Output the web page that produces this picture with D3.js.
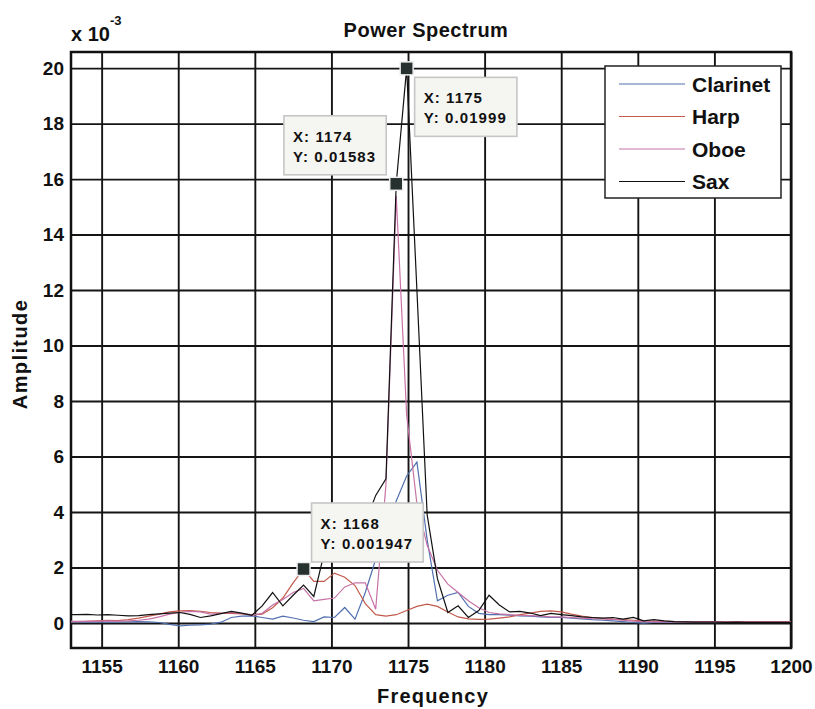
<!DOCTYPE html>
<html>
<head>
<meta charset="utf-8">
<script src="https://cdn.jsdelivr.net/npm/d3@7"></script>
<style>
  body { margin: 0; background: #fff; }
  svg text { font-family: "Liberation Sans", Arial, Helvetica, sans-serif; font-weight: bold; fill: #111; }
</style>
</head>
<body>
<div id="chart"></div>
<script>
// frequency bins (Hz)
const freq = [
  1152.70,1153.37,1154.04,1154.72,1155.39,1156.06,1156.74,1157.41,1158.08,1158.76,
  1159.43,1160.10,1160.77,1161.45,1162.12,1162.79,1163.47,1164.14,1164.81,1165.48,
  1166.16,1166.83,1167.50,1168.18,1168.85,1169.52,1170.20,1170.87,1171.54,1172.21,
  1172.89,1173.56,1174.23,1174.91,1175.58,1176.25,1176.92,1177.60,1178.27,1178.94,
  1179.62,1180.29,1180.96,1181.63,1182.31,1182.98,1183.65,1184.33,1185.00,1185.67,
  1186.34,1187.02,1187.69,1188.36,1189.04,1189.71,1190.38,1191.05,1191.73,1192.40,
  1193.07,1193.75,1194.42,1195.09,1195.77,1196.44,1197.11,1197.78,1198.46,1199.13,
  1199.80,1200.48
];

// amplitudes, x 10^-3
const clarinet = [
  0.03,0.03,0.04,0.03,0.04,0.03,0.04,0.05,0.04,0.02,
  -0.05,-0.10,-0.08,-0.07,-0.04,0.03,0.20,0.25,0.26,0.20,
  0.14,0.25,0.18,0.10,0.05,0.22,0.20,0.56,0.14,1.10,
  2.30,3.40,4.40,5.30,5.80,3.00,0.80,1.00,1.10,0.60,
  0.35,0.30,0.30,0.28,0.26,0.25,0.22,0.20,0.20,0.18,
  0.15,0.12,0.10,0.08,0.05,0.02,0.00,0.02,0.02,0.02,
  0.02,0.02,0.02,0.02,0.02,0.02,0.02,0.02,0.02,0.02,
  0.02,0.02
];
const harp = [
  0.05,0.05,0.06,0.08,0.10,0.09,0.12,0.18,0.25,0.32,
  0.40,0.44,0.45,0.42,0.38,0.36,0.35,0.33,0.30,0.32,
  0.55,0.90,1.45,1.947,1.50,1.50,1.80,1.65,1.35,0.70,
  0.30,0.25,0.30,0.45,0.60,0.68,0.60,0.40,0.22,0.15,
  0.13,0.14,0.18,0.22,0.30,0.36,0.42,0.44,0.40,0.32,
  0.25,0.20,0.17,0.14,0.12,0.10,0.08,0.07,0.06,0.05,
  0.05,0.05,0.05,0.05,0.05,0.05,0.05,0.05,0.05,0.05,
  0.05,0.05
];
const oboe = [
  0.06,0.06,0.07,0.06,0.08,0.07,0.08,0.10,0.14,0.22,
  0.32,0.38,0.42,0.40,0.32,0.35,0.38,0.35,0.28,0.35,
  0.65,0.85,1.10,1.25,0.80,0.85,0.90,1.30,1.45,1.45,
  0.50,5.00,15.40,7.50,4.30,2.80,1.90,1.40,1.10,0.80,
  0.55,0.38,0.33,0.30,0.28,0.27,0.25,0.22,0.22,0.20,
  0.18,0.16,0.15,0.13,0.10,0.07,0.05,0.04,0.04,0.04,
  0.04,0.04,0.04,0.04,0.04,0.04,0.04,0.04,0.04,0.04,
  0.04,0.04
];
const sax = [
  0.30,0.30,0.31,0.29,0.30,0.28,0.26,0.27,0.30,0.33,
  0.36,0.38,0.31,0.20,0.26,0.34,0.42,0.36,0.28,0.62,
  1.10,0.62,1.00,1.37,0.96,2.50,3.30,3.00,2.80,3.60,
  4.60,5.20,15.83,19.99,12.00,3.90,1.60,0.38,0.62,0.20,
  0.45,1.00,0.65,0.40,0.42,0.36,0.27,0.35,0.30,0.27,
  0.22,0.20,0.18,0.20,0.14,0.20,0.08,0.12,0.08,0.05,
  0.04,0.03,0.03,0.03,0.02,0.03,0.02,0.02,0.02,0.02,
  0.02,0.02
];

const seriesNames = ["Clarinet", "Harp", "Oboe", "Sax"];
const xTicks = [1155, 1160, 1165, 1170, 1175, 1180, 1185, 1190, 1195, 1200];
const yTicks = [0, 2, 4, 6, 8, 10, 12, 14, 16, 18, 20];

// data tips
const tipSeries = ["Sax", "Sax", "Harp"];
const tipIndex = [33, 32, 23];
const tipLabels = [["X: 1175", "Y: 0.01999"], ["X: 1174", "Y: 0.01583"], ["X: 1168", "Y: 0.001947"]];

const seriesData = { Clarinet: clarinet, Harp: harp, Oboe: oboe, Sax: sax };
const colors = { Clarinet: "#5270b0", Harp: "#c25a4c", Oboe: "#c772a6", Sax: "#111111" };

const width = 815, height = 709;
const margin = { top: 52, right: 24, bottom: 61, left: 71 };
const plotW = width - margin.left - margin.right;
const plotH = height - margin.top - margin.bottom;

const svg = d3.select("#chart").append("svg")
  .attr("width", width).attr("height", height);

const x = d3.scaleLinear().domain([1153, 1200]).range([margin.left, margin.left + plotW]);
const y = d3.scaleLinear().domain([-0.9, 20.58]).range([margin.top + plotH, margin.top]);

svg.append("clipPath").attr("id", "clip")
  .append("rect").attr("x", margin.left).attr("y", margin.top).attr("width", plotW).attr("height", plotH);

// grid via axes
const xAxis = svg.append("g")
  .attr("transform", `translate(0,${margin.top + plotH})`)
  .call(d3.axisBottom(x).tickValues(xTicks).tickFormat(d3.format("d")).tickSize(-plotH).tickPadding(12));
const yAxis = svg.append("g")
  .attr("transform", `translate(${margin.left},0)`)
  .call(d3.axisLeft(y).tickValues(yTicks).tickFormat(d3.format("d")).tickSize(-plotW).tickPadding(7));

[xAxis, yAxis].forEach(g => {
  g.select(".domain").remove();
  g.selectAll("line").attr("stroke", "#151515").attr("stroke-width", 1.9);
  g.selectAll("text").style("font-size", "19px").style("font-family", null).attr("fill", "#111");
});

// frame
svg.append("rect")
  .attr("x", margin.left).attr("y", margin.top)
  .attr("width", plotW).attr("height", plotH)
  .attr("fill", "none").attr("stroke", "#111").attr("stroke-width", 2.5);

// lines
const lineGen = d3.line()
  .x((d, i) => x(freq[i]))
  .y(d => y(d));

svg.append("g").attr("clip-path", "url(#clip)")
  .selectAll("path")
  .data(seriesNames)
  .join("path")
  .attr("d", name => lineGen(seriesData[name]))
  .attr("fill", "none")
  .attr("stroke", name => colors[name])
  .attr("stroke-width", 1.2)
  .attr("stroke-linejoin", "miter");

// data tips
const tipPlace = [
  (mx, my, w) => [mx + 8, my + 9],
  (mx, my, w) => [mx - 10 - w, my - 68],
  (mx, my, w) => [mx + 8, my - 66]
];
tipSeries.forEach((name, k) => {
  const i = tipIndex[k];
  const mx = x(freq[i]), my = y(seriesData[name][i]);
  const g = svg.append("g");
  const box = g.append("rect");
  const texts = g.selectAll("text").data(tipLabels[k]).join("text")
    .text(d => d)
    .style("font-size", "15px")
    .style("letter-spacing", "1.1px");
  let tw = 0;
  texts.each(function () { tw = Math.max(tw, this.getComputedTextLength()); });
  const bw = tw + 19, bh = 59;
  const [bx, by] = tipPlace[k](mx, my, bw);
  box.attr("x", bx).attr("y", by).attr("width", bw).attr("height", bh)
    .attr("fill", "#f5f5f1").attr("stroke", "#c6c6c6").attr("stroke-width", 1.6);
  texts.attr("x", bx + 9).attr("y", (d, j) => by + 26 + j * 20);
  svg.append("rect")
    .attr("x", mx - 6.5).attr("y", my - 6.5).attr("width", 13).attr("height", 13)
    .attr("fill", "#25302f").attr("stroke", "#eeeeee").attr("stroke-width", 1.5);
});

// legend
const lg = svg.append("g");
lg.append("rect")
  .attr("x", 605).attr("y", 66).attr("width", 176).attr("height", 132)
  .attr("fill", "#fff").attr("stroke", "#222").attr("stroke-width", 1.5);
seriesNames.forEach((name, k) => {
  const cy = 84 + k * 32.5;
  lg.append("line").attr("x1", 619).attr("x2", 685).attr("y1", cy).attr("y2", cy)
    .attr("stroke", colors[name]).attr("stroke-width", 1.2);
  lg.append("text").attr("x", 692).attr("y", cy + 7.5).text(name).style("font-size", "21px");
});

// titles and labels
svg.append("text")
  .attr("x", 426).attr("y", 37)
  .attr("text-anchor", "middle")
  .style("font-size", "20px").style("letter-spacing", "0.5px")
  .text("Power Spectrum");

svg.append("text")
  .attr("x", 433).attr("y", 703)
  .attr("text-anchor", "middle")
  .style("font-size", "20px").style("letter-spacing", "1.2px")
  .text("Frequency");

svg.append("text")
  .attr("transform", "translate(27,354) rotate(-90)")
  .attr("text-anchor", "middle")
  .style("font-size", "20px").style("letter-spacing", "1.4px")
  .text("Amplitude");

const sci = svg.append("text").attr("x", 71).attr("y", 41).style("font-size", "20px");
sci.append("tspan").text("x 10");
sci.append("tspan").attr("dy", -16).style("font-size", "13px").text("-3");
</script>
</body>
</html>
